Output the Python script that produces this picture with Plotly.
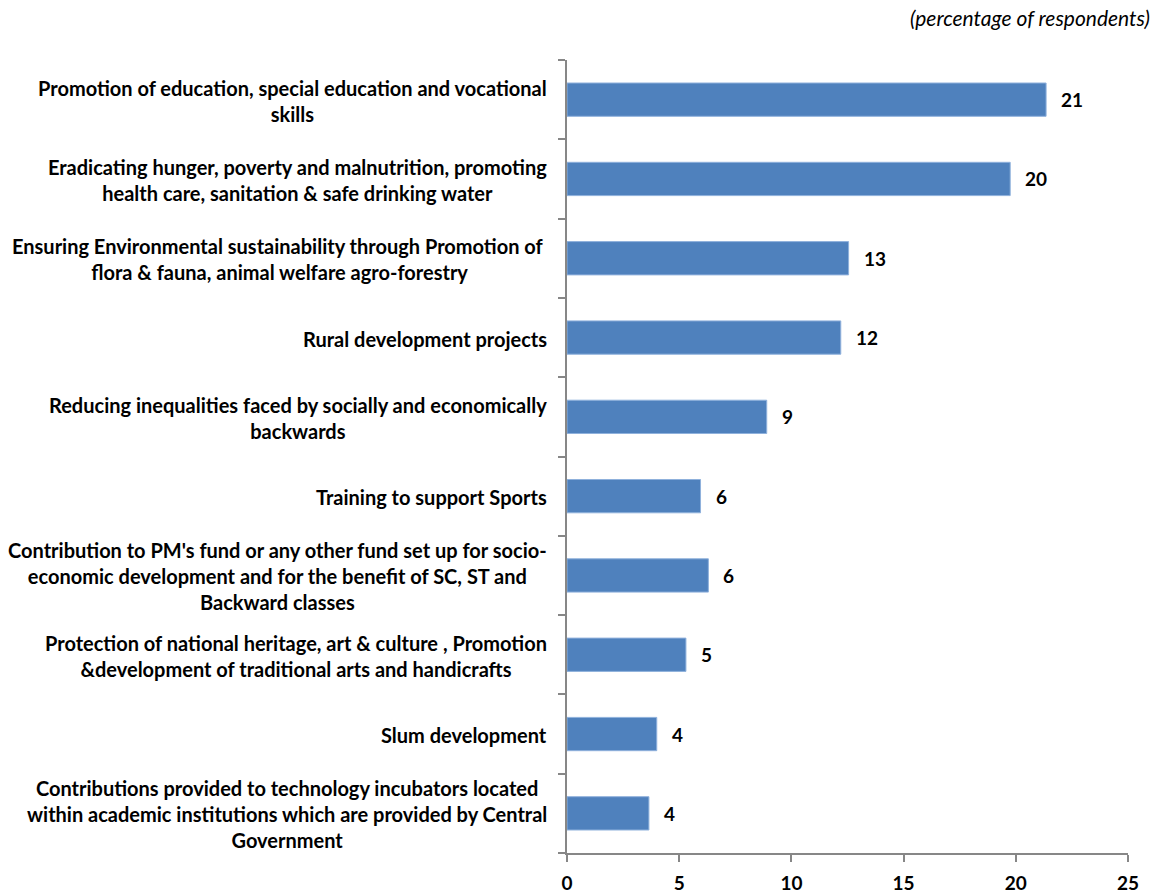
import plotly.graph_objects as go

# CSR activity areas, listed top to bottom
categories = [
    "Promotion of education, special education and vocational<br>skills",
    "Eradicating hunger, poverty and malnutrition, promoting<br>health care, sanitation & safe drinking water",
    "Ensuring Environmental sustainability through Promotion of <br>flora & fauna, animal welfare agro-forestry",
    "Rural development projects",
    "Reducing inequalities faced by socially and economically<br>backwards",
    "Training to support Sports",
    "Contribution to PM's fund or any other fund set up for socio-<br>economic development and for the benefit of SC, ST and<br>Backward classes",
    "Protection of national heritage, art & culture , Promotion<br>&development of traditional arts and handicrafts",
    "Slum development",
    "Contributions provided to technology incubators located<br>within academic institutions which are provided by Central<br>Government",
]
# share of respondents (%)
values = [21.35, 19.75, 12.55, 12.2, 8.9, 5.95, 6.3, 5.3, 4.0, 3.65]
x_ticks = [0, 5, 10, 15, 20, 25]

FONT = "Lato"
BAR = "#4F81BD"
AXIS = "#878787"

fig = go.Figure(
    go.Bar(
        x=values,
        y=list(range(len(categories))),
        orientation="h",
        marker=dict(color=BAR, line=dict(color="#8FB1DC", width=1)),
        width=0.42,
        hoverinfo="skip",
    )
)

# category names, centred block to the left of the axis
for i, name in enumerate(categories):
    fig.add_annotation(
        x=0, xref="paper", y=i, yref="y",
        text=f"<b>{name}</b>", showarrow=False,
        xanchor="right", yanchor="middle", align="center",
        xshift=-18, yshift=-1,
        font=dict(family=FONT, size=20, color="#000000"),
    )

# value labels at bar ends
for i, v in enumerate(values):
    fig.add_annotation(
        x=v, xref="x", y=i, yref="y",
        text=f"<b>{v:.0f}</b>", showarrow=False,
        xanchor="left", yanchor="middle", xshift=13,
        font=dict(family=FONT, size=19, color="#000000"),
    )

fig.add_annotation(
    x=1, xref="paper", y=1, yref="paper",
    text="<i>(percentage of respondents)</i>", showarrow=False,
    xanchor="right", yanchor="bottom", xshift=24, yshift=28,
    font=dict(family=FONT, size=21, color="#000000"),
)

fig.update_layout(
    width=1168, height=895,
    margin=dict(l=567, r=40, t=60, b=42, autoexpand=False),
    paper_bgcolor="white", plot_bgcolor="white",
    showlegend=False,
    font=dict(family=FONT, size=18, color="#000000"),
    xaxis=dict(
        range=[0, 25], tickvals=x_ticks,
        ticktext=[f"<b>{t}</b>" for t in x_ticks],
        showgrid=False, zeroline=False, automargin=False,
        showline=True, linecolor=AXIS, linewidth=1.5,
        ticks="outside", ticklen=7, tickcolor=AXIS, tickwidth=1.5,
        ticklabelstandoff=5,
        tickfont=dict(family=FONT, size=19, color="#000000"),
    ),
    yaxis=dict(
        type="linear", range=[len(categories) - 0.5, -0.5],
        tickvals=[i - 0.5 for i in range(len(categories) + 1)],
        showticklabels=False, automargin=False,
        showgrid=False, zeroline=False,
        showline=True, linecolor=AXIS, linewidth=1.5,
        ticks="outside", ticklen=7, tickcolor=AXIS, tickwidth=1.5,
    ),
)

fig.write_html("out.html")
